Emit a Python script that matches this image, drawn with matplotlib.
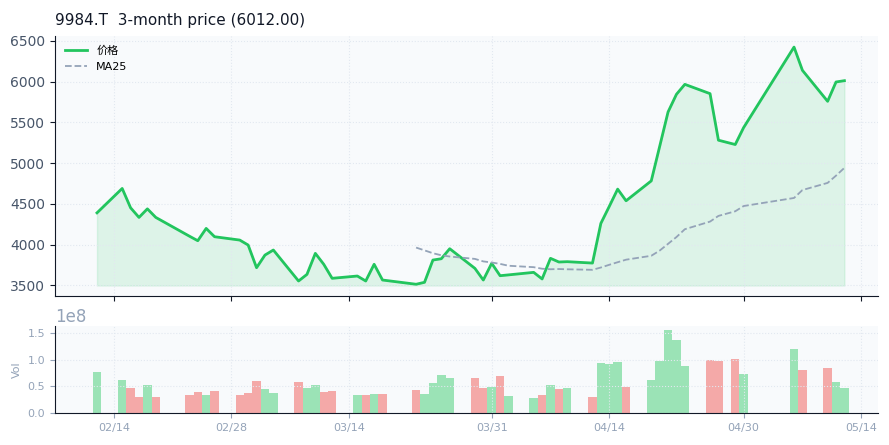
import matplotlib
matplotlib.use("Agg")
import matplotlib.pyplot as plt
import matplotlib.dates as mdates
import numpy as np
import pandas as pd

dates = ["2021-02-12","2021-02-15","2021-02-16","2021-02-17","2021-02-18","2021-02-19",
         "2021-02-23","2021-02-24","2021-02-25","2021-02-26",
         "2021-03-01","2021-03-02","2021-03-03","2021-03-04","2021-03-05",
         "2021-03-08","2021-03-09","2021-03-10","2021-03-11","2021-03-12",
         "2021-03-15","2021-03-16","2021-03-17","2021-03-18",
         "2021-03-22","2021-03-23","2021-03-24","2021-03-25","2021-03-26",
         "2021-03-29","2021-03-30","2021-03-31","2021-04-01","2021-04-02",
         "2021-04-05","2021-04-06","2021-04-07","2021-04-08","2021-04-09",
         "2021-04-12","2021-04-13","2021-04-14","2021-04-15","2021-04-16",
         "2021-04-19","2021-04-20","2021-04-21","2021-04-22","2021-04-23",
         "2021-04-26","2021-04-27",
         "2021-04-29","2021-04-30",
         "2021-05-06","2021-05-07",
         "2021-05-10","2021-05-11","2021-05-12"]
close = [4391,4690,4453,4335,4440,4335,
         4105,4049,4200,4098,
         4057,3996,3718,3873,3935,
         3555,3636,3894,3760,3588,
         3616,3555,3760,3567,
         3515,3539,3812,3828,3951,
         3710,3567,3772,3620,3630,
         3661,3580,3833,3788,3792,
         3775,4262,4470,4682,4539,
         4783,5205,5628,5845,5967,
         5853,5282,
         5229,5437,
         6424,6139,
         5759,5996,6012]
volume = [0.77,0.62,0.47,0.30,0.53,0.30,
          0.34,0.40,0.34,0.42,
          0.34,0.38,0.60,0.45,0.38,
          0.58,0.47,0.53,0.40,0.42,
          0.34,0.34,0.36,0.36,
          0.43,0.36,0.56,0.71,0.66,
          0.66,0.47,0.49,0.69,0.32,
          0.29,0.34,0.53,0.45,0.47,
          0.30,0.94,0.92,0.95,0.49,
          0.61,0.97,1.55,1.36,0.88,
          0.99,0.97,
          1.01,0.73,
          1.20,0.81,
          0.84,0.58,0.47]
volume = [v * 1e8 for v in volume]
tick_dates = ["2021-02-14","2021-02-28","2021-03-14","2021-03-31","2021-04-14","2021-04-30","2021-05-14"]

plt.rcParams['font.family'] = ['DejaVu Sans', 'Noto Sans CJK SC']
d = pd.to_datetime(dates)
s = pd.Series(close, index=d)
ma = s.rolling(25).mean()
up = np.r_[True, np.diff(close) >= 0]
bar_colors = ['#9be3b6' if u else '#f4a9a8' for u in up]

fig = plt.figure(figsize=(8.89, 4.45), dpi=100)
ax = fig.add_axes([55/889, 1-296/445, 823/889, 260/445])
axv = fig.add_axes([55/889, 1-413/445, 823/889, 87/445], sharex=ax)
for a in (ax, axv):
    a.set_facecolor('#f8fafc')
    for sp in ('top', 'right'):
        a.spines[sp].set_visible(False)
    a.spines['left'].set_color('#111827')
    a.spines['bottom'].set_color('#111827')
    a.grid(True, color='#e2e8f0', linestyle=':', linewidth=0.8)

ax.plot(d, close, color='#22c55e', lw=2, label='价格')
ax.fill_between(d, close, 3500, color='#22c55e', alpha=0.12)
ax.plot(d, ma, color='#94a3b8', lw=1.3, ls='--', label='MA25')
ax.set_ylim(3371, 6560)
ax.set_yticks([3500, 4000, 4500, 5000, 5500, 6000, 6500])
ax.tick_params(axis='y', labelsize=10, colors='#475569')
ax.tick_params(axis='x', labelbottom=False, colors='#111827')
ax.tick_params(axis='y', color='#111827')
leg = ax.legend(loc='upper left', fontsize=8, frameon=False)
ax.set_title('9984.T  3-month price (6012.00)', loc='left', fontsize=11, color='#111827', pad=8)

axv.bar(d, volume, width=1.0, color=bar_colors)
axv.set_ylim(0, 1.63e8)
axv.set_yticks([0, 0.5e8, 1.0e8, 1.5e8])
axv.set_ylabel('Vol', fontsize=8, color='#94a3b8')
axv.tick_params(labelsize=8, colors='#94a3b8')
axv.yaxis.get_offset_text().set_color('#94a3b8')
axv.yaxis.get_offset_text().set_fontsize(12)
axv.set_xticks(pd.to_datetime(tick_dates))
axv.xaxis.set_major_formatter(mdates.DateFormatter('%m/%d'))
axv.set_xlim(pd.Timestamp("2021-02-07"), pd.Timestamp("2021-05-16"))

fig.savefig('out.png', dpi=100)
